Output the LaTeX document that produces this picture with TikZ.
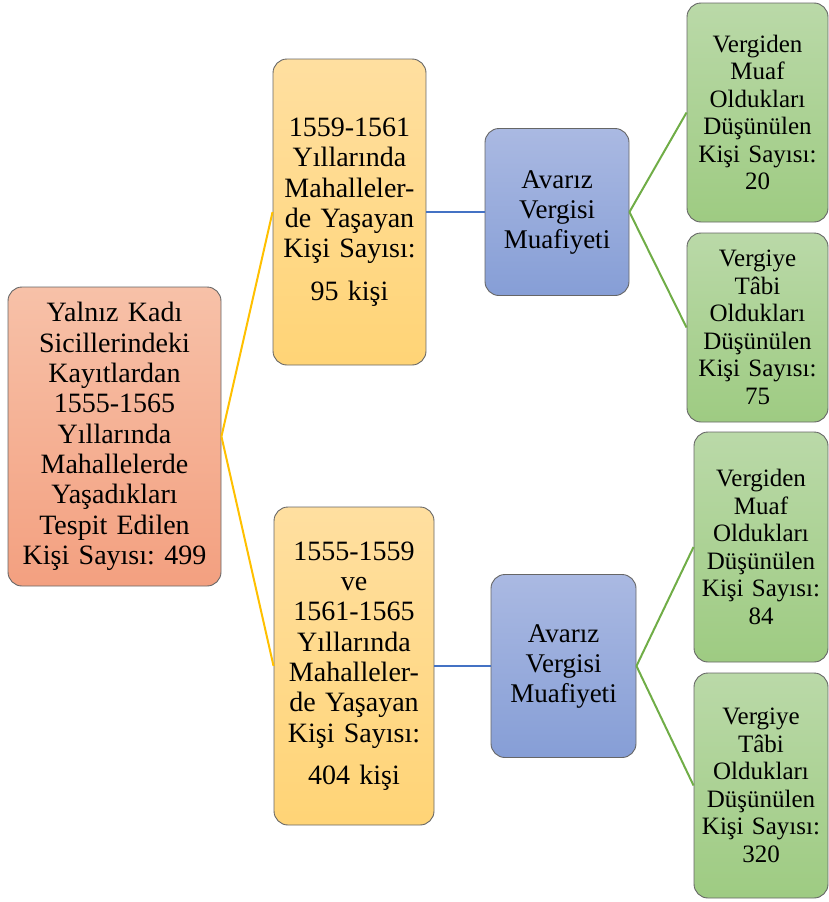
\documentclass[tikz,border=0pt]{standalone}
\usepackage{fontspec}
\setmainfont{Liberation Serif}
\frenchspacing
\begin{document}
\begin{tikzpicture}[x=1pt,y=-1pt,
  box/.style={rectangle,rounded corners=14pt,draw=black!60,line width=0.9pt,inner sep=0pt,align=center,
    font=\fontsize{28}{30.3}\selectfont},
  rootbox/.style={box,top color=orange1top,bottom color=orange1bot},
  yelbox/.style={box,top color=yeltop,bottom color=yelbot},
  bluebox/.style={box,top color=bluetop,bottom color=bluebot,font=\fontsize{27}{30}\selectfont},
  grnbox/.style={box,top color=grntop,bottom color=grnbot,font=\fontsize{25}{27.5}\selectfont},
  yline/.style={draw=linegold,line width=2pt},
  bline/.style={draw=lineblue,line width=2pt},
  gline/.style={draw=linegreen,line width=2pt}]
\definecolor{orange1top}{RGB}{247,193,168}
\definecolor{orange1bot}{RGB}{243,160,128}
\definecolor{yeltop}{RGB}{255,223,160}
\definecolor{yelbot}{RGB}{255,212,118}
\definecolor{bluetop}{RGB}{170,185,226}
\definecolor{bluebot}{RGB}{134,158,214}
\definecolor{grntop}{RGB}{186,217,168}
\definecolor{grnbot}{RGB}{158,203,130}
\definecolor{linegold}{RGB}{255,192,0}
\definecolor{lineblue}{RGB}{68,114,196}
\definecolor{linegreen}{RGB}{112,173,71}
\useasboundingbox (0,0) rectangle (829,902);

\node[rootbox,minimum width=213pt,minimum height=299pt,text width=209pt] (root) at (114.5,436.5)
  {Yalnız Kadı\\Sicillerindeki\\Kayıtlardan\\1555-1565\\Yıllarında\\Mahallelerde\\Yaşadıkları\\Tespit Edilen\\Kişi Sayısı: 499};

\node[yelbox,minimum width=153pt,minimum height=306pt,text width=151pt] (y1) at (349.5,212)
  {1559-1561\\Yıllarında\\Mahalleler-\\de Yaşayan\\Kişi Sayısı:\\[12pt]95 kişi};
\node[yelbox,minimum width=160pt,minimum height=318pt,text width=158pt] (y2) at (354,666)
  {1555-1559\\ve\\1561-1565\\Yıllarında\\Mahalleler-\\de Yaşayan\\Kişi Sayısı:\\[12pt]404 kişi};

\node[bluebox,minimum width=144pt,minimum height=167pt,text width=140pt] (b1) at (557,212)
  {Avarız\\Vergisi\\Muafiyeti};
\node[bluebox,minimum width=145pt,minimum height=183pt,text width=141pt] (b2) at (563.5,666)
  {Avarız\\Vergisi\\Muafiyeti};

\node[grnbox,minimum width=141pt,minimum height=219pt,text width=139pt] (g1) at (757.5,112.5)
  {Vergiden\\Muaf\\Oldukları\\Düşünülen\\Kişi Sayısı:\\20};
\node[grnbox,minimum width=141pt,minimum height=189pt,text width=139pt] (g2) at (757.5,327.5)
  {Vergiye\\Tâbi\\Oldukları\\Düşünülen\\Kişi Sayısı:\\75};
\node[grnbox,minimum width=134pt,minimum height=230pt,text width=132pt] (g3) at (761,547)
  {Vergiden\\Muaf\\Oldukları\\Düşünülen\\Kişi Sayısı:\\84};
\node[grnbox,minimum width=134pt,minimum height=225pt,text width=132pt] (g4) at (761,785.5)
  {Vergiye\\Tâbi\\Oldukları\\Düşünülen\\Kişi Sayısı:\\320};

\path[yline] (root.east) -- (y1.west);
\path[yline] (root.east) -- (y2.west);
\path[bline] (y1.east) -- (b1.west);
\path[bline] (y2.east) -- (b2.west);
\path[gline] (b1.east) -- (g1.west);
\path[gline] (b1.east) -- (g2.west);
\path[gline] (b2.east) -- (g3.west);
\path[gline] (b2.east) -- (g4.west);
\end{tikzpicture}
\end{document}
